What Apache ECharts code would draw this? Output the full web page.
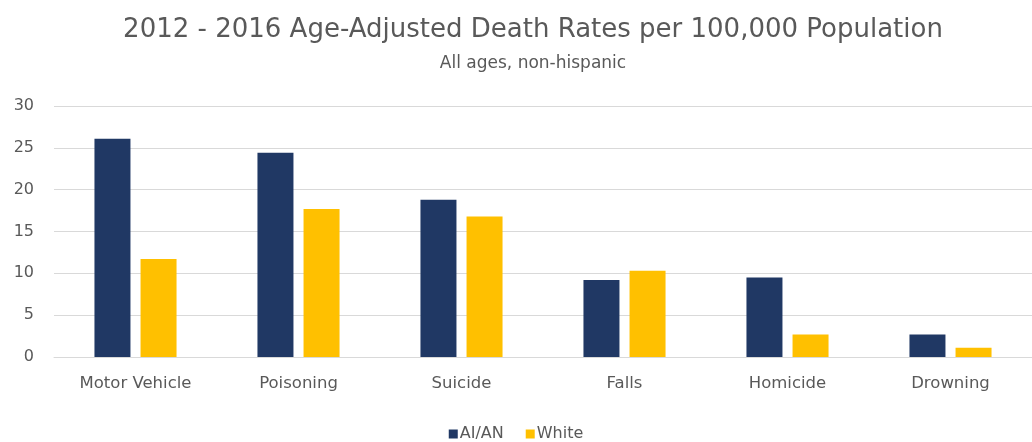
<!DOCTYPE html>
<html>
<head>
<meta charset="utf-8">
<script src="https://cdn.jsdelivr.net/npm/echarts@6/dist/echarts.min.js"></script>
<style>html,body{margin:0;padding:0;background:#fff;}#c{width:1032px;height:442px;}</style>
</head>
<body>
<div id="c"></div>
<script>
const categories = ["Motor Vehicle", "Poisoning", "Suicide", "Falls", "Homicide", "Drowning"];
const aian = [26.1, 24.4, 18.8, 9.2, 9.5, 2.7];
const white = [11.7, 17.7, 16.8, 10.3, 2.7, 1.1];
const seriesNames = ["AI/AN", "White"];

const chart = echarts.init(document.getElementById('c'));
const font = "'DejaVu Sans', sans-serif";
chart.setOption({
  backgroundColor: '#ffffff',
  animation: false,
  title: {
    text: '2012 - 2016 Age-Adjusted Death Rates per 100,000 Population',
    subtext: 'All ages, non-hispanic',
    left: 528, textAlign: 'center', top: 12,
    textStyle: { fontFamily: font, fontSize: 26, fontWeight: 'normal', color: '#595959' },
    subtextStyle: { fontFamily: font, fontSize: 17, color: '#595959' },
    itemGap: 12
  },
  legend: {
    data: seriesNames, top: 421, left: 'center',
    itemWidth: 9, itemHeight: 9, icon: 'rect', itemGap: 22,
    textStyle: { fontFamily: font, fontSize: 16, color: '#595959', padding: [0,0,0,-3] }
  },
  grid: { left: 54, right: -9, top: 106, bottom: 85, containLabel: false },
  xAxis: {
    type: 'category', data: categories,
    axisLine: { lineStyle: { color: '#d9d9d9', width: 1 } },
    axisTick: { show: false },
    axisLabel: { fontFamily: font, fontSize: 16.5, color: '#595959', margin: 18 }
  },
  yAxis: {
    type: 'value', min: 0, max: 30, interval: 5,
    axisLine: { show: false }, axisTick: { show: false },
    splitLine: { lineStyle: { color: '#d9d9d9', width: 1 } },
    axisLabel: { fontFamily: font, fontSize: 16, color: '#595959', margin: 20 }
  },
  series: [
    { name: seriesNames[0], type: 'bar', data: aian, barWidth: 36, barGap: '28%', itemStyle: { color: '#203864' } },
    { name: seriesNames[1], type: 'bar', data: white, barWidth: 36, barGap: '28%', itemStyle: { color: '#FFC000' } }
  ]
});
</script>
</body>
</html>
